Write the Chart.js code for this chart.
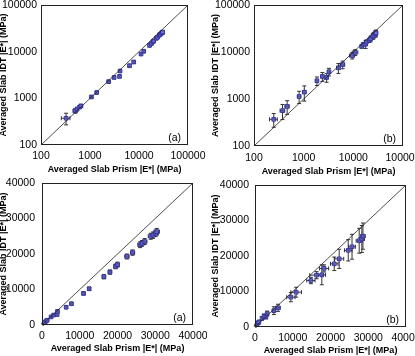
<!DOCTYPE html>
<html>
<head>
<meta charset="utf-8">
<script src="https://cdn.jsdelivr.net/npm/chart.js@4.4.1/dist/chart.umd.min.js"></script>
<style>
  body { margin: 0; background: #fff; }
  #wrap { position: relative; width: 415px; height: 356px; overflow: hidden; }
  canvas { position: absolute; }
</style>
</head>
<body>
<div id="wrap">
  <canvas id="logA" width="207" height="178" style="left:0;top:0"></canvas>
  <canvas id="logB" width="208" height="178" style="left:207px;top:0"></canvas>
  <canvas id="linA" width="207" height="178" style="left:0;top:178px"></canvas>
  <canvas id="linB" width="208" height="178" style="left:207px;top:178px"></canvas>
</div>
<script>
// tick labels
const logTicks = [100, 1000, 10000, 100000];
const linTicks = [0, 10000, 20000, 30000, 40000];

// series (a): averaged slab prism vs slab IDT |E*| (MPa)
const prismA = [325, 500, 545, 615, 655, 1070, 1370, 2400, 3100, 4000, 4100, 6400, 7800, 11000, 12500,
  16400, 18000, 19500, 20000, 22500, 24000, 26000, 26500, 27200, 28800, 29400, 30100, 30400];
const idtA = [375, 540, 590, 650, 690, 1070, 1330, 2280, 2800, 2950, 3850, 5000, 6000, 8900, 10200,
  13600, 14900, 16500, 17000, 19300, 20400, 22600, 23000, 23500, 25000, 25300, 25800, 26300];
const prismErrA = [65, 50, 40, 35, 35, 40, 50, 80, 100, 120, 120, 200, 250, 350, 350,
  450, 450, 500, 500, 550, 550, 600, 600, 600, 650, 650, 700, 700];
const idtErrA = [105, 60, 50, 45, 45, 50, 60, 100, 120, 150, 160, 250, 300, 400, 450,
  600, 600, 650, 700, 700, 750, 800, 800, 850, 850, 900, 900, 900];

// series (b)
const prismB = [250, 375, 465, 810, 1030, 1850, 2380, 2900, 3230, 5000, 6100, 9500, 10900,
  14800, 16300, 17700, 18300, 21000, 22300, 24700, 25700, 27600, 28300, 28600];
const idtB = [370, 565, 695, 1130, 1400, 2440, 3020, 2870, 3790, 4600, 5400, 8400, 9800,
  13100, 14600, 14700, 16500, 17800, 19200, 21600, 22600, 24300, 24800, 25600];
const prismErrB = [45, 40, 45, 60, 80, 120, 150, 180, 200, 400, 600, 1100, 1400,
  1100, 1800, 1000, 1200, 1000, 1200, 1000, 900, 800, 700, 600];
const idtErrB = [120, 200, 225, 330, 500, 500, 650, 600, 700, 1100, 1000, 1300, 1400,
  900, 1000, 2800, 1000, 1900, 2700, 3000, 3500, 3500, 3800, 3700];

const xTitle = 'Averaged Slab Prism |E*| (MPa)';
const yTitle = 'Averaged Slab IDT |E*| (MPa)';

Chart.defaults.font.family = '"Liberation Sans", Arial, sans-serif';
Chart.defaults.color = '#000';

// error bars drawn under the markers
const errorBars = {
  id: 'errorBars',
  beforeDatasetsDraw(chart) {
    const opts = chart.options.plugins.errorBars;
    const { ctx, scales: { x, y } } = chart;
    const cap = 2;
    ctx.save();
    ctx.strokeStyle = '#333';
    ctx.lineWidth = 1;
    ctx.beginPath();
    opts.xs.forEach((v, i) => {
      const px = x.getPixelForValue(v);
      const py = y.getPixelForValue(opts.ys[i]);
      const x0 = x.getPixelForValue(v - opts.xerr[i]);
      const x1 = x.getPixelForValue(v + opts.xerr[i]);
      const y0 = y.getPixelForValue(opts.ys[i] - opts.yerr[i]);
      const y1 = y.getPixelForValue(opts.ys[i] + opts.yerr[i]);
      ctx.moveTo(x0, py); ctx.lineTo(x1, py);
      ctx.moveTo(x0, py - cap); ctx.lineTo(x0, py + cap);
      ctx.moveTo(x1, py - cap); ctx.lineTo(x1, py + cap);
      ctx.moveTo(px, y0); ctx.lineTo(px, y1);
      ctx.moveTo(px - cap, y0); ctx.lineTo(px + cap, y0);
      ctx.moveTo(px - cap, y1); ctx.lineTo(px + cap, y1);
    });
    ctx.stroke();
    ctx.restore();
  }
};

// plot frame and panel letter
const frame = {
  id: 'frame',
  afterDraw(chart) {
    const { ctx, chartArea: a } = chart;
    ctx.save();
    ctx.strokeStyle = '#222';
    ctx.lineWidth = 1;
    ctx.strokeRect(Math.round(a.left) + 0.5, Math.round(a.top) + 0.5,
      Math.round(a.width) - 1, Math.round(a.height) - 1);
    ctx.font = '10.5px "Liberation Sans", Arial, sans-serif';
    ctx.fillStyle = '#000';
    ctx.textAlign = 'right';
    ctx.textBaseline = 'middle';
    ctx.fillText(chart.options.plugins.frame.label, a.right - 7, a.bottom - 6.5);
    ctx.restore();
  }
};

function makePanel(id, cfg) {
  const g = cfg.geom;
  const ticks = cfg.log ? logTicks : linTicks;
  const points = cfg.xs.map((v, i) => ({ x: v, y: cfg.ys[i] }));
  const axis = (isX) => ({
    type: cfg.log ? 'logarithmic' : 'linear',
    min: ticks[0],
    max: ticks[ticks.length - 1],
    grid: { display: false, drawTicks: false },
    border: { display: false },
    ticks: {
      autoSkip: false,
      maxRotation: 0,
      padding: isX ? g.xPad : g.yPad,
      font: { size: 10.5 },
      callback: v => String(v)
    },
    title: {
      display: true,
      text: isX ? xTitle : yTitle,
      font: { size: 9, weight: 'bold' },
      padding: isX ? { bottom: g.xtPad, top: 0 } : { top: g.ytPad, bottom: 0 }
    },
    afterBuildTicks: s => { s.ticks = ticks.map(v => ({ value: v })); },
    afterFit: s => {
      if (isX) { s.height = g.xh; s.paddingLeft = 0; s.paddingRight = 0; }
      else { s.width = g.yw; s.paddingTop = 0; s.paddingBottom = 0; }
    }
  });

  new Chart(document.getElementById(id), {
    type: 'scatter',
    data: {
      datasets: [
        {
          data: [{ x: ticks[0], y: ticks[0] }, { x: ticks[ticks.length - 1], y: ticks[ticks.length - 1] }],
          showLine: true,
          borderColor: '#222',
          borderWidth: 0.8,
          pointRadius: 0
        },
        {
          data: points,
          pointStyle: 'rect',
          pointRadius: 2.6,
          backgroundColor: 'rgba(130,130,215,0.55)',
          borderColor: '#3535a5',
          borderWidth: 1
        },
        {
          data: points,
          pointStyle: 'crossRot',
          pointRadius: 2,
          borderColor: '#16167a',
          borderWidth: 1
        }
      ]
    },
    options: {
      responsive: false,
      animation: false,
      devicePixelRatio: 1,
      layout: { padding: { left: 0, top: g.top, right: g.right, bottom: 0 } },
      scales: { x: axis(true), y: axis(false) },
      plugins: {
        legend: { display: false },
        tooltip: { enabled: false },
        errorBars: { xs: cfg.xs, ys: cfg.ys, xerr: cfg.xerr, yerr: cfg.yerr },
        frame: { label: cfg.label }
      }
    },
    plugins: [errorBars, frame]
  });
}

makePanel('logA', {
  log: true, label: '(a)', xs: prismA, ys: idtA, xerr: prismErrA, yerr: idtErrA,
  geom: { yw: 41, xh: 33, top: 5, right: 19, xPad: 5, yPad: 4, xtPad: 2.6, ytPad: -2 }
});
makePanel('logB', {
  log: true, label: '(b)', xs: prismB, ys: idtB, xerr: prismErrB, yerr: idtErrB,
  geom: { yw: 47, xh: 32, top: 5, right: 12, xPad: 6, yPad: 4, xtPad: 1, ytPad: 3 }
});
makePanel('linA', {
  log: false, label: '(a)', xs: prismA, ys: idtA, xerr: prismErrA, yerr: idtErrA,
  geom: { yw: 42, xh: 31, top: 5, right: 14, xPad: 5, yPad: 7, xtPad: 1.6, ytPad: -2 }
});
makePanel('linB', {
  log: false, label: '(b)', xs: prismB, ys: idtB, xerr: prismErrB, yerr: idtErrB,
  geom: { yw: 48, xh: 29, top: 7, right: 9, xPad: 5, yPad: 6, xtPad: 0, ytPad: 3.6 }
});
</script>
</body>
</html>
